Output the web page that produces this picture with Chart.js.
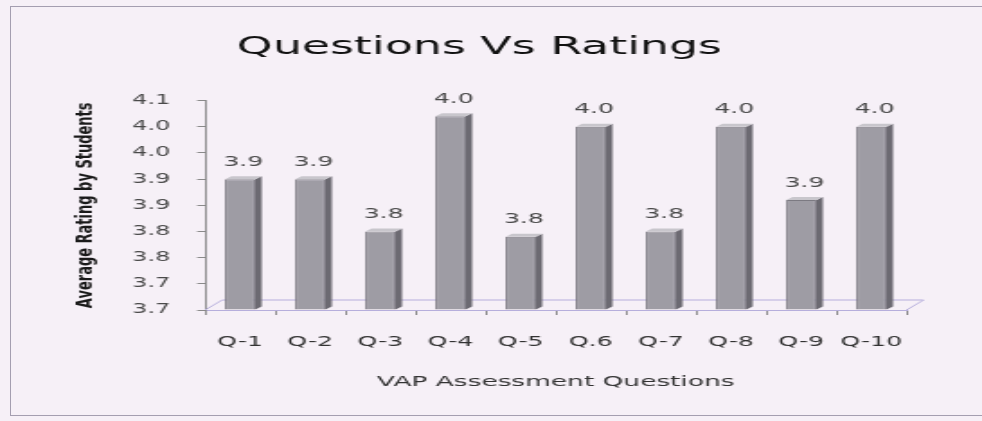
<!DOCTYPE html>
<html>
<head>
<meta charset="utf-8">
<title>Questions Vs Ratings</title>
<script src="https://cdn.jsdelivr.net/npm/chart.js@4.4.1/dist/chart.umd.min.js"></script>
<style>
  html, body { margin: 0; padding: 0; background: #f6f0f7; }
  body { width: 982px; height: 421px; overflow: hidden; position: relative; }
  #frame { position: absolute; left: 10px; top: 6px; width: 1000px; height: 408px; border: 1px solid #a49eb0; }
  #ratings { position: absolute; left: 0; top: 0; }
</style>
</head>
<body>
<div id="frame"></div>
<!-- drawn narrow and widened by the browser, so every glyph and bar gets the wide look -->
<canvas id="ratings" width="546" height="421" style="width:982px;height:421px"></canvas>
<script>
const questions = ['Q-1', 'Q-2', 'Q-3', 'Q-4', 'Q-5', 'Q.6', 'Q-7', 'Q-8', 'Q-9', 'Q-10'];
const avgRatings = [3.90, 3.90, 3.80, 4.02, 3.79, 4.00, 3.80, 4.00, 3.86, 4.00];
const ratingMin = 3.65;
const ratingMax = 4.05;
const ratingStep = 0.05;

// depth of the fake 3d columns and floor (canvas px)
const BAR_DX = 3.6, BAR_DY = 3;
const FLOOR_DX = 9.5, FLOOR_DY = 10;

const FONT = "'DejaVu Sans', sans-serif";

const oneDecimal = v => (Math.round(v * 10 + 1e-6) / 10).toFixed(1);

const columns3d = {
    id: 'columns3d',
    beforeDatasetsDraw(chart) {
        const { ctx, chartArea: a } = chart;
        ctx.save();
        ctx.strokeStyle = '#b6aedc';
        ctx.lineWidth = 1;
        ctx.beginPath();
        ctx.moveTo(a.left, a.bottom);
        ctx.lineTo(a.left + FLOOR_DX, a.bottom - FLOOR_DY);
        ctx.lineTo(a.right + FLOOR_DX, a.bottom - FLOOR_DY);
        ctx.lineTo(a.right, a.bottom);
        ctx.stroke();
        ctx.restore();
    },
    afterDatasetsDraw(chart) {
        const ctx = chart.ctx;
        const meta = chart.getDatasetMeta(0);
        ctx.save();
        meta.data.forEach((bar, i) => {
            const { x, y, base, width } = bar.getProps(['x', 'y', 'base', 'width'], true);
            const l = x - width / 2, r = x + width / 2;

            // right side face
            ctx.fillStyle = '#6c6a72';
            ctx.beginPath();
            ctx.moveTo(r, y);
            ctx.lineTo(r + BAR_DX, y - BAR_DY);
            ctx.lineTo(r + BAR_DX, base - BAR_DY);
            ctx.lineTo(r, base);
            ctx.closePath();
            ctx.fill();

            // top face
            ctx.fillStyle = '#c8c6cc';
            ctx.beginPath();
            ctx.moveTo(l, y);
            ctx.lineTo(l + BAR_DX, y - BAR_DY);
            ctx.lineTo(r + BAR_DX, y - BAR_DY);
            ctx.lineTo(r, y);
            ctx.closePath();
            ctx.fill();

            // value label
            ctx.fillStyle = '#4a4a4a';
            ctx.font = `14px ${FONT}`;
            ctx.textAlign = 'center';
            ctx.textBaseline = 'middle';
            ctx.fillText(avgRatings[i].toFixed(1), x + BAR_DX / 2, y - 17);
        });
        ctx.restore();
    }
};

const ctx = document.getElementById('ratings').getContext('2d');
new Chart(ctx, {
    type: 'bar',
    data: {
        labels: questions,
        datasets: [{
            label: 'Average Rating',
            data: avgRatings,
            backgroundColor: '#9e9ca4',
            borderColor: '#7c7a82',
            borderWidth: 1,
            barPercentage: 0.72,
            categoryPercentage: 0.6,
            base: ratingMin
        }]
    },
    options: {
        responsive: false,
        animation: false,
        devicePixelRatio: 1,
        layout: { padding: { left: 29, right: 42, top: 0, bottom: 10 } },
        plugins: {
            legend: { display: false },
            tooltip: { enabled: false },
            title: {
                display: true,
                text: 'Questions Vs Ratings',
                color: '#111',
                font: { family: FONT, size: 25.5, weight: 'normal' },
                padding: { top: 32, bottom: 38 }
            }
        },
        scales: {
            x: {
                grid: { drawOnChartArea: false, tickLength: 5, color: '#8a8a8a' },
                border: { color: '#b6aedc' },
                ticks: {
                    color: '#333',
                    font: { family: FONT, size: 14 },
                    padding: 19,
                    autoSkip: false,
                    maxRotation: 0,
                    minRotation: 0
                },
                title: {
                    display: true,
                    text: 'VAP Assessment Questions',
                    color: '#333',
                    font: { family: FONT, size: 14.7 },
                    padding: { top: 0, bottom: 20 }
                },
                afterFit(scale) { scale.height = 101; }
            },
            y: {
                min: ratingMin,
                max: ratingMax,
                grid: { drawOnChartArea: false, tickLength: 4.4, color: '#8a8a8a' },
                border: { color: '#8a8a8a' },
                ticks: {
                    stepSize: ratingStep,
                    color: '#4a4a4a',
                    font: { family: FONT, size: 13.3 },
                    padding: 15,
                    callback: v => oneDecimal(v)
                },
                title: {
                    display: true,
                    text: 'Average Rating by Students',
                    color: '#1a1a1a',
                    font: { family: FONT, size: 13, weight: 'bold' },
                    padding: { top: 11, bottom: 0 }
                },
                afterFit(scale) { scale.width = 85; }
            }
        }
    },
    plugins: [columns3d]
});
</script>
</body>
</html>
